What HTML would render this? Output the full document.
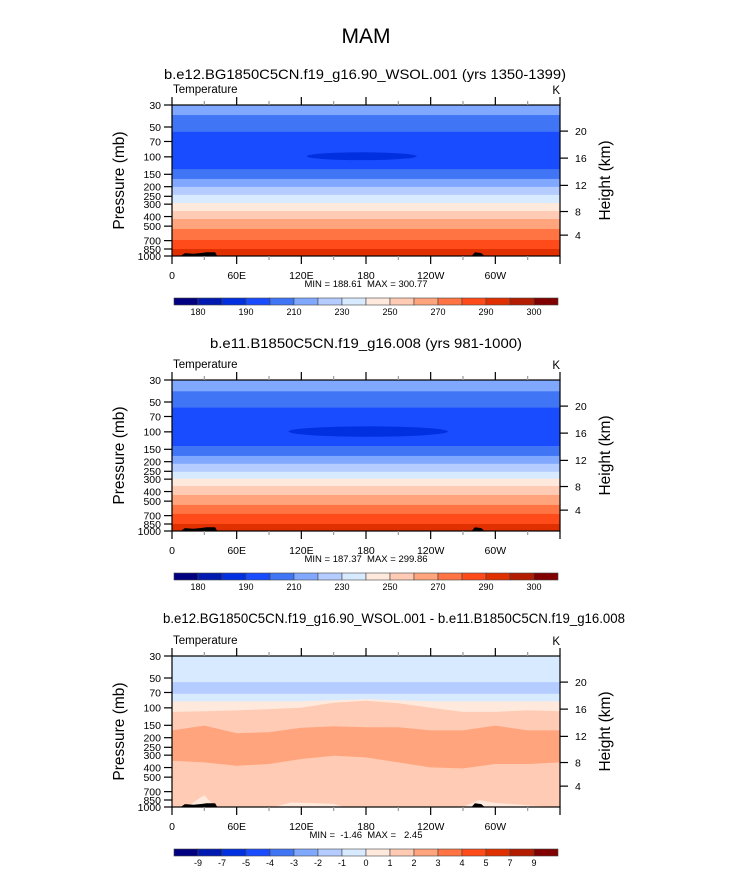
<!DOCTYPE html>
<html><head><meta charset="utf-8">
<style>
html,body{margin:0;padding:0;background:#fff;}
svg{display:block;font-family:"Liberation Sans",sans-serif;}
</style></head>
<body>
<svg id="chart" width="733" height="872" viewBox="0 0 733 872" xmlns="http://www.w3.org/2000/svg">
<text x="366" y="43" font-size="21" text-anchor="middle">MAM</text>
</svg>
<script>
// ---------- data ----------
const palette = ["#000080","#0019b0","#0030e0","#1a4cff","#4075f5","#80a8ff","#b4ccff","#d8eaff","#ffe9dc","#ffcbb4","#ffa47c","#ff7442","#ff4a1a","#e03000","#b41c00","#800000"];
const lonTicks = [0,60,120,180,240,300];
const lonTickLabels = ["0","60E","120E","180","120W","60W"];
const presTicks = [30,50,70,100,150,200,250,300,400,500,700,850,1000];
const heightTicks = [4,8,12,16,20];
const heightTickPres = [616,356,194,103,55];
const barLabels12 = ["180","190","210","230","250","270","290","300"];
const barLabels3 = ["-9","-7","-5","-4","-3","-2","-1","0","1","2","3","4","5","7","9"];
// panel 1/2 bands: pressure boundaries (mb) and colour index of each band (top->bottom)
const p1Bounds = [37.9,56,133,167,201,242,292,352,424,534,690,850];
const p2Bounds = [39,57,139,175,210,253,297,352,433,546,673,850];
const bandColors = [5,4,3,4,5,6,7,8,9,10,11,12,13];
// cold core ellipses [lonStart, lonEnd, pTop, pBottom]
const p1Core = [125,227,90,108];
const p2Core = [108,256,88,112];
// panel 3 difference field boundaries along longitude
const diffLons = [0,30,60,90,120,150,180,210,240,270,300,330,360];
const diffOrangeBottom = [341,355,384,368,328,304,316,355,399,408,368,368,355];
const diffOrangeTop = [169,151,180,176,159,154,157,157,169,169,151,169,169];
const diffZeroOne = [110,108,106,103,100,89,85,90,100,110,110,106,108];
const diffMinusZero = [86,86,86,86,86,84,82,84,86,86,86,86,86];
const diffBlueBottom = [72,72,72,72,72,72,72,72,72,72,72,72,72];
const diffBlueTop = [55,55,55,55,55,55,55,55,55,55,55,55,55];
const surfPatchLons = [8,18,25,30,40,95,110,125,150,160,190,270,285,300,330,350];
const surfPatchPres = [1000,930,820,760,1000,1000,900,910,930,1000,1000,1000,850,910,960,1000];
const topoLons = [8,12,20,28,32,40,42,278,281,287,290];
const topoPres = [1000,935,950,930,915,918,1000,1000,915,935,1000];
const minmax = ["MIN = 188.61  MAX = 300.77","MIN = 187.37  MAX = 299.86","MIN =  -1.46  MAX =   2.45"];
const titles = ["b.e12.BG1850C5CN.f19_g16.90_WSOL.001 (yrs 1350-1399)","b.e11.B1850C5CN.f19_g16.008 (yrs 981-1000)","b.e12.BG1850C5CN.f19_g16.90_WSOL.001 - b.e11.B1850C5CN.f19_g16.008"];

// ---------- drawing ----------
const NS="http://www.w3.org/2000/svg";
const svg=document.getElementById('chart');
function mk(tag,attrs,parent){const e=document.createElementNS(NS,tag);for(const k in attrs)e.setAttribute(k,attrs[k]);(parent||svg).appendChild(e);return e;}
const X0=172,X1=560,H=151;
const panelTops=[105,380,656];
const titleY=[79,348,623], titleW=[402,312,462], titleX=[365,366,394];
function xs(lon){return X0+(X1-X0)*lon/360;}
function ysF(top){return p=>top+H*Math.log(p/30)/Math.log(1000/30);}

function curvePts(lons,pres,ys){return lons.map((l,i)=>xs(l).toFixed(1)+','+ys(pres[i]).toFixed(1));}
function aboveCurve(g,lons,pres,ys,top,color,name){
  const pts=curvePts(lons,pres,ys);
  pts.push(xs(360)+','+top); pts.push(xs(0)+','+top);
  const e=mk('polygon',{points:pts.join(' '),fill:color},g);
  
  
}

panelTops.forEach((top,pi)=>{
  const ys=ysF(top);
  const g=mk('g',{});
  
  
  const t=mk('text',{x:titleX[pi],y:titleY[pi],'font-size':14,'text-anchor':'middle',textLength:titleW[pi],lengthAdjust:'spacingAndGlyphs'},g);
  t.textContent=titles[pi];
  
  
  const clip=mk('clipPath',{id:'clip'+pi},g);
  mk('rect',{x:X0,y:top,width:X1-X0,height:H},clip);
  const pg=mk('g',{'clip-path':'url(#clip'+pi+')'},g);
  
  
  if(pi<2){
    const bounds=pi==0?p1Bounds:p2Bounds;
    const edges=[30].concat(bounds,[1000]);
    for(let b=0;b<edges.length-1;b++){
      const r=mk('rect',{x:X0,y:ys(edges[b]),width:X1-X0,height:ys(edges[b+1])-ys(edges[b])+0.5,fill:palette[bandColors[b]]},pg);
      
      
    }
    const c=pi==0?p1Core:p2Core;
    const el=mk('ellipse',{cx:(xs(c[0])+xs(c[1]))/2,cy:(ys(c[2])+ys(c[3]))/2,rx:(xs(c[1])-xs(c[0]))/2,ry:(ys(c[3])-ys(c[2]))/2,fill:palette[2]},pg);
    
    
  } else {
    const base=mk('rect',{x:X0,y:top,width:X1-X0,height:H,fill:palette[9]},pg);
    
    
    aboveCurve(pg,diffLons,diffOrangeBottom,ys,top,palette[10],'band-2-3');
    aboveCurve(pg,diffLons,diffOrangeTop,ys,top,palette[9],'band-1-2-upper');
    aboveCurve(pg,diffLons,diffZeroOne,ys,top,palette[8],'band-0-1');
    aboveCurve(pg,diffLons,diffMinusZero,ys,top,palette[7],'band-m1-0');
    aboveCurve(pg,diffLons,diffBlueBottom,ys,top,palette[6],'band-m2-m1');
    aboveCurve(pg,diffLons,diffBlueTop,ys,top,palette[7],'band-m1-0-upper');
    const pts=curvePts(surfPatchLons,surfPatchPres,ys);
    const sp=mk('polygon',{points:pts.join(' '),fill:palette[8]},pg);
    
    
  }
  // topography
  const tp=mk('polygon',{points:curvePts(topoLons.slice(0,7),topoPres.slice(0,7),ys).join(' '),fill:'#000'},pg);
  
  
  const tp2=mk('polygon',{points:curvePts(topoLons.slice(7),topoPres.slice(7),ys).join(' '),fill:'#000'},pg);
  
  
  // frame
  const fr=mk('rect',{x:X0,y:top,width:X1-X0,height:H,fill:'none',stroke:'#000','stroke-width':1.2},g);
  
  
  // lon ticks
  for(let l=0;l<=360;l+=30){
    const major=l%60==0;const len=major?8:4;const col=major?'#000':'#999';
    mk('line',{x1:xs(l),x2:xs(l),y1:top+H,y2:top+H+len,stroke:col,'stroke-width':1.2},g);
    mk('line',{x1:xs(l),x2:xs(l),y1:top,y2:top-len,stroke:col,'stroke-width':1.2},g);
  }
  lonTicks.forEach((l,i)=>{
    const tx=mk('text',{x:xs(l),y:top+H+23,'font-size':10.5,'text-anchor':'middle'},g);
    tx.textContent=lonTickLabels[i];
    
    
  });
  presTicks.forEach(p=>{
    mk('line',{x1:X0-8,x2:X0,y1:ys(p),y2:ys(p),stroke:'#000','stroke-width':1.2},g);
    const tx=mk('text',{x:X0-11,y:ys(p)+3.8,'font-size':10.5,'text-anchor':'end'},g);
    tx.textContent=p;
    
    
  });
  heightTicks.forEach((h,i)=>{
    const y=ys(heightTickPres[i]);
    mk('line',{x1:X1,x2:X1+8,y1:y,y2:y,stroke:'#000','stroke-width':1.2},g);
    const tx=mk('text',{x:X1+15,y:y+3.8,'font-size':10.5},g);
    tx.textContent=h;
    
    
  });
  const yl=mk('text',{x:0,y:0,'font-size':15.5,'text-anchor':'middle',transform:`translate(124,${top+H/2}) rotate(-90)`},g);
  yl.textContent='Pressure (mb)';
  
  
  const hl=mk('text',{x:0,y:0,'font-size':15.5,'text-anchor':'middle',transform:`translate(610,${top+H/2}) rotate(-90)`},g);
  hl.textContent='Height (km)';
  
  
  const lt=mk('text',{x:173,y:top-12,'font-size':11.5},g);
  lt.textContent='Temperature';
  
  
  const kt=mk('text',{x:560,y:top-11,'font-size':11.5,'text-anchor':'end'},g);
  kt.textContent='K';
  
  
  const mm=mk('text',{x:366,y:top+H+31,'font-size':9.5,'text-anchor':'middle','xml:space':'preserve'},g);
  mm.setAttribute('style','white-space:pre');
  mm.textContent=minmax[pi];
  
  
  // colorbar
  const cb=mk('g',{},g);
  
  
  const cby=top+193, bx0=174, bw=(558-174)/16;
  palette.forEach((c,i)=>{
    const r=mk('rect',{x:bx0+i*bw,y:cby,width:bw,height:7,fill:c,stroke:'#444','stroke-width':0.6},cb);
    
    
  });
  const labs=pi<2?barLabels12:barLabels3;
  labs.forEach((s,i)=>{
    const idx=pi<2?1+2*i:1+i;
    const tx=mk('text',{x:bx0+idx*bw,y:cby+17,'font-size':9,'text-anchor':'middle'},cb);
    tx.textContent=s;
    
    
  });
});
</script>
</body></html>
